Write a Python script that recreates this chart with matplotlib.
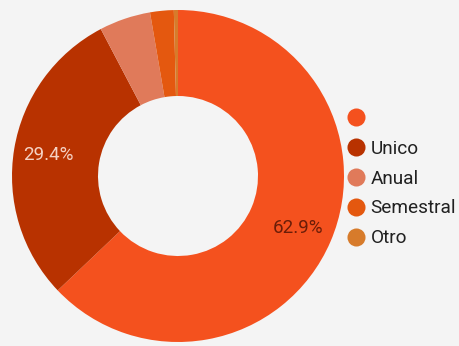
import matplotlib
matplotlib.use("Agg")
import matplotlib.pyplot as plt
from matplotlib.lines import Line2D

plt.rcParams['font.family'] = ['Roboto', 'DejaVu Sans']

# respuestas por tipo de pago
labels = ['', 'Unico', 'Anual', 'Semestral', 'Otro']
values = [62.9, 29.4, 5.0, 2.3, 0.4]
colors = ['#f4511e', '#b83200', '#e07a5a', '#e4580f', '#d77b2b']
pct_colors = ['#6a1d08', '#f5d2c4', None, None, None]

BG = '#f4f4f4'
W, H = 459, 346

fig = plt.figure(figsize=(W / 100, H / 100), dpi=100, facecolor=BG)
ax = fig.add_axes([0, 0, 1, 1])
ax.set_facecolor(BG)

def show_pct(p):
    return f'{p:.1f}%' if p > 10 else ''

wedges, texts, autotexts = ax.pie(
    values,
    colors=colors,
    startangle=90,
    counterclock=False,
    center=(178, H - 176),
    radius=166,
    autopct=show_pct,
    pctdistance=0.79,
    wedgeprops=dict(width=86, linewidth=0),
    textprops=dict(fontsize=13.5),
)
for t, c in zip(autotexts, pct_colors):
    if c:
        t.set_color(c)

ax.set_xlim(0, W)
ax.set_ylim(0, H)
ax.set_aspect('equal')
ax.axis('off')

handles = [Line2D([], [], marker='o', linestyle='none', markersize=13,
                  markerfacecolor=c, markeredgewidth=0) for c in colors]
ax.legend(handles, labels, loc='upper left',
          bbox_to_anchor=(346.6 / W, 1 - 110 / H),
          frameon=False, fontsize=13.7, handlelength=1.0,
          handletextpad=0.25, labelspacing=0.62, borderpad=0,
          borderaxespad=0, labelcolor='#212121')

fig.savefig('out.png', dpi=100, facecolor=BG)
